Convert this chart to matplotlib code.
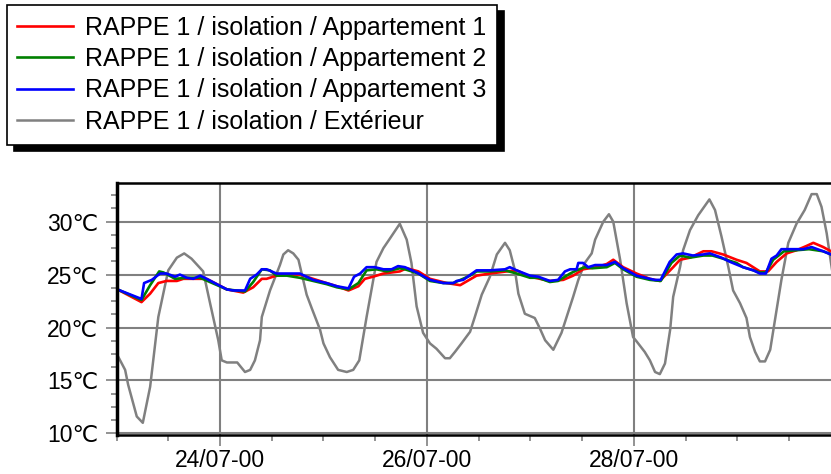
import numpy as np
import matplotlib
matplotlib.use('Agg')
import matplotlib.pyplot as plt
import matplotlib.dates as mdates
from matplotlib.ticker import MultipleLocator, FuncFormatter

plt.rcParams['font.family'] = ['Liberation Sans', 'DejaVu Sans']

# hours since 23/07/2000 00:00, temperatures in degC
ext_h = [0.2, 2.0, 2.7, 4.7, 6.1, 7.8, 9.7, 12.0, 14.0, 15.7, 17.4, 20.1, 21.7, 23.6, 24.4,
         25.6, 28.0, 29.8, 31.0, 32.1, 33.3, 33.7, 35.6, 37.9, 38.7, 39.8, 41.0, 42.2, 44.1,
         45.3, 47.2, 48.0, 49.5, 51.4, 53.4, 54.9, 56.3, 58.0, 60.3, 61.9, 63.4, 65.7, 67.3,
         68.4, 69.6, 71.1, 72.7, 74.2, 76.2, 77.3, 78.5, 80.0, 82.0, 83.1, 84.7, 86.6, 88.2,
         90.1, 91.2, 92.4, 93.2, 94.7, 97.0, 98.2, 99.4, 101.3, 103.2, 105.9, 107.1, 108.6,
         110.2, 111.0, 112.9, 114.2, 115.2, 116.8, 118.3, 119.8, 120.6, 122.5, 123.7, 124.9,
         126.0, 127.2, 128.4, 129.1, 130.7, 131.4, 133.0, 134.9, 137.5, 138.8, 140.3, 141.9,
         143.0, 144.6, 146.1, 146.9, 148.1, 149.2, 150.4, 151.6, 152.7, 154.2, 155.8, 157.7,
         159.6, 161.2, 162.4, 163.5, 164.7, 165.7, 166.5]
ext_t = [17.4, 16.0, 14.6, 11.6, 11.0, 14.4, 21.0, 25.4, 26.6, 27.0, 26.5, 25.3, 22.3, 18.8, 16.9,
         16.7, 16.7, 15.8, 16.0, 16.9, 18.8, 21.0, 23.5, 25.9, 26.9, 27.3, 27.0, 26.4, 23.1,
         21.8, 19.8, 18.5, 17.2, 16.0, 15.8, 16.0, 16.9, 21.0, 26.2, 27.5, 28.4, 29.8, 28.3,
         26.1, 22.0, 19.5, 18.5, 18.0, 17.1, 17.1, 17.7, 18.5, 19.6, 21.0, 23.1, 24.8, 26.9,
         28.0, 27.3, 25.4, 23.2, 21.3, 20.9, 19.9, 18.8, 17.9, 19.5, 22.9, 24.5, 26.1,
         27.0, 28.3, 30.0, 30.7, 30.0, 26.4, 22.3, 19.1, 18.7, 17.7, 16.9, 15.8,
         15.6, 16.6, 19.8, 22.9, 25.7, 27.3, 29.2, 30.6, 32.1, 31.1, 28.6, 25.7,
         23.5, 22.3, 20.9, 19.1, 17.7, 16.8, 16.8, 17.9, 20.7, 24.5, 28.0, 29.8,
         31.1, 32.6, 32.6, 31.4, 28.9, 26.1, 24.0]

app1_h = [0.2, 5.8, 7.8, 9.7, 11.6, 14.0, 15.5, 18.6, 20.9, 25.6, 29.4, 31.7, 33.7, 34.8, 37.1,
          39.5, 42.5, 45.6, 48.7, 51.1, 53.8, 56.1, 57.6, 59.5, 61.9, 65.7, 67.3, 70.0, 72.7,
          76.6, 79.7, 83.5, 86.6, 90.5, 92.8, 95.9, 100.5, 103.6, 105.9, 108.2, 111.3, 113.7,
          115.2, 117.5, 120.6, 123.7, 126.0, 129.1, 130.7, 133.0, 136.1, 138.0, 140.7, 143.8,
          146.1, 149.2, 151.1, 153.1, 155.4, 157.7, 160.0, 161.6, 163.9, 165.7]
app1_t = [23.6, 22.4, 23.2, 24.2, 24.4, 24.4, 24.6, 24.6, 24.6, 23.6, 23.3, 23.8, 24.6, 24.6, 24.9,
          25.0, 25.0, 24.6, 24.2, 23.9, 23.5, 23.9, 24.6, 24.8, 25.1, 25.3, 25.6, 25.3, 24.6,
          24.2, 24.0, 24.9, 25.1, 25.3, 25.4, 24.8, 24.4, 24.5, 24.9, 25.5, 25.7, 26.0,
          26.4, 25.7, 25.1, 24.6, 24.4, 25.7, 26.4, 26.6, 27.2, 27.2, 26.9, 26.4,
          26.1, 25.3, 25.3, 26.2, 27.0, 27.3, 27.7, 28.0, 27.6, 27.2]

app2_h = [0.2, 5.8, 7.8, 9.9, 10.9, 13.6, 16.3, 19.4, 25.6, 29.8, 31.7, 33.7, 35.6, 37.1, 39.5,
          42.5, 45.6, 48.7, 51.1, 53.8, 56.1, 58.0, 60.3, 62.7, 65.7, 66.9, 70.0, 72.7, 75.8,
          78.1, 82.0, 83.5, 86.6, 90.1, 92.8, 95.9, 97.8, 100.5, 102.4, 105.2, 106.7, 108.6,
          110.4, 113.7, 115.6, 117.5, 120.6, 123.7, 126.2, 128.7, 130.7, 133.0, 136.1, 138.2,
          140.7, 143.8, 145.3, 147.7, 149.2, 150.6, 152.3, 154.8, 157.7, 160.6, 163.9, 165.7]
app2_t = [23.6, 22.6, 24.0, 25.3, 25.2, 24.6, 24.7, 24.7, 23.6, 23.4, 24.3, 25.5, 25.4, 24.9, 24.9,
          24.7, 24.4, 24.1, 23.8, 23.6, 24.2, 25.4, 25.5, 25.3, 25.6, 25.5, 25.1, 24.4, 24.2,
          24.2, 24.9, 25.3, 25.3, 25.4, 25.1, 24.7, 24.7, 24.3, 24.4, 25.1, 25.4, 25.7,
          25.6, 25.7, 26.1, 25.5, 24.8, 24.5, 24.4, 26.1, 26.8, 26.6, 26.8, 26.8,
          26.5, 26.1, 25.7, 25.4, 25.2, 25.2, 26.4, 27.2, 27.3, 27.4, 27.2, 26.9]

app3_h = [0.2, 5.8, 6.4, 8.2, 10.1, 11.6, 13.6, 14.7, 16.3, 17.8, 19.4, 20.9, 25.6, 27.1, 29.8,
          31.0, 32.5, 33.7, 34.8, 37.1, 40.2, 42.5, 45.6, 48.7, 51.1, 53.8, 55.1, 56.5, 58.0,
          59.9, 61.9, 63.8, 65.3, 66.9, 69.6, 72.7, 75.8, 78.1, 78.9, 80.4, 83.5, 86.6, 90.1,
          91.2, 92.8, 95.9, 97.8, 100.5, 102.4, 104.0, 105.2, 106.7, 107.1, 108.2, 109.4,
          111.0, 113.7, 115.6, 117.5, 120.6, 123.7, 124.9, 126.2, 128.3, 129.9, 131.4, 133.7,
          136.1, 137.6, 140.3, 142.3, 145.3, 147.7, 149.2, 150.6, 151.9, 153.1, 154.2, 157.7,
          159.3, 161.2, 163.9, 165.7]
app3_t = [23.6, 22.7, 24.2, 24.5, 25.1, 25.1, 24.8, 25.0, 24.7, 24.6, 24.9, 24.6, 23.6, 23.5, 23.5,
          24.6, 25.0, 25.5, 25.5, 25.1, 25.1, 25.1, 24.5, 24.2, 23.9, 23.7, 24.8, 25.1, 25.7,
          25.7, 25.5, 25.5, 25.8, 25.7, 25.2, 24.5, 24.2, 24.2, 24.4, 24.5, 25.4, 25.4, 25.5,
          25.7, 25.4, 24.9, 24.8, 24.4, 24.5, 25.3, 25.5, 25.5, 26.1, 26.1, 25.7,
          25.9, 25.9, 26.2, 25.6, 24.9, 24.6, 24.5, 24.5, 26.2, 26.9, 27.0, 26.8,
          26.9, 27.0, 26.6, 26.2, 25.7, 25.4, 25.1, 25.1, 26.5, 26.8, 27.4, 27.4,
          27.4, 27.6, 27.2, 26.9]

labels = ['RAPPE 1 / isolation / Appartement 1',
          'RAPPE 1 / isolation / Appartement 2',
          'RAPPE 1 / isolation / Appartement 3',
          'RAPPE 1 / isolation / Extérieur']

start = np.datetime64('2000-07-23T00:00')


def to_time(hours):
    return start + (np.array(hours) * 60).astype('int64').astype('timedelta64[m]')


fig = plt.figure(figsize=(8.31, 4.74), dpi=100)
ax = fig.add_axes([116.5 / 831, 39 / 474, 1 - 116.5 / 831, 252 / 474])

l4, = ax.plot(to_time(ext_h), ext_t, color='#808080', lw=1.8, zorder=3)
l1, = ax.plot(to_time(app1_h), app1_t, color='#ff0000', lw=1.9, zorder=4)
l2, = ax.plot(to_time(app2_h), app2_t, color='#008000', lw=1.9, zorder=5)
l3, = ax.plot(to_time(app3_h), app3_t, color='#0000ff', lw=1.9, zorder=6)

ax.set_xlim(start, start + np.timedelta64(int(165.7 * 60), 'm'))
ax.set_ylim(9.85, 33.65)

ax.yaxis.set_major_locator(MultipleLocator(5))
ax.yaxis.set_minor_locator(MultipleLocator(1.25))
ax.yaxis.set_major_formatter(FuncFormatter(lambda v, p: '%d\u2103' % v))
ax.xaxis.set_major_locator(mdates.DayLocator(bymonthday=[24, 26, 28, 30]))
ax.xaxis.set_minor_locator(mdates.HourLocator(byhour=[0, 12]))
ax.xaxis.set_major_formatter(mdates.DateFormatter('%d/%m-%y'))

ax.grid(True, which='major', color='#808080', lw=1.5, zorder=1)
ax.tick_params(axis='both', which='major', labelsize=16.5, color='#808080', width=1.2, length=8)
ax.tick_params(axis='both', which='minor', color='#808080', width=1.2, length=4)
ax.tick_params(axis='y', pad=5)
ax.tick_params(axis='x', pad=2)

ax.spines['right'].set_visible(False)
ax.spines['left'].set_linewidth(2.5)
ax.spines['top'].set_linewidth(1.8)
ax.spines['bottom'].set_linewidth(1.8)
for s in ['left', 'top', 'bottom']:
    ax.spines[s].set_color('black')
    ax.spines[s].set_zorder(7)

leg = fig.legend([l1, l2, l3, l4], labels, loc='upper left',
                 bbox_to_anchor=(7 / 831, 1 - 5 / 474), borderaxespad=0,
                 fontsize=18, fancybox=False, framealpha=1, edgecolor='black',
                 handlelength=2.2, handletextpad=0.5, labelspacing=0.3,
                 borderpad=0.42,
                 shadow={'ox': 5, 'oy': -4.5, 'color': 'black', 'alpha': 1})
leg.get_frame().set_linewidth(1.2)

fig.savefig('out.png', dpi=100)
